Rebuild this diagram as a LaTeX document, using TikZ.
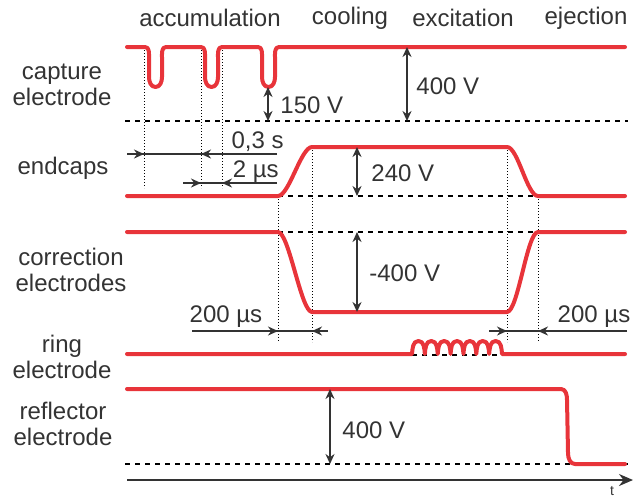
\documentclass[tikz,border=0pt]{standalone}
\usepackage{fontspec}
\setmainfont{Liberation Sans}
\usetikzlibrary{arrows.meta}
\definecolor{tred}{RGB}{232,52,58}
\definecolor{dgray}{RGB}{51,51,51}

\begin{document}
\begin{tikzpicture}[x=0.5pt,y=-0.5pt,
    trace/.style={draw=tred, line width=2pt, line join=round, line cap=round},
    refline/.style={draw=black, line width=0.7pt, dash pattern=on 2.5pt off 2.5pt},
    guide/.style={draw=black, line width=0.4pt, dash pattern=on 0.7pt off 0.8pt},
    dimline/.style={draw=dgray, line width=1pt},
    dim/.style={dimline, -{Stealth[length=5pt,width=4.5pt]}},
    dimboth/.style={dimline, {Stealth[length=5pt,width=4.5pt]}-{Stealth[length=5pt,width=4.5pt]}},
    lbl/.style={text=dgray, font=\fontsize{12}{13}\selectfont, inner sep=0pt, align=center}]
        \useasboundingbox (0,0) rectangle (640,499);

        % phases
        \node[lbl] (accu) at (210,18) {accumulation};
        \node[lbl] (cool) at (350,18) {cooling};
        \node[lbl] (exci) at (463,18) {excitation};
        \node[lbl] (ejec) at (586,18) {ejection};

        % electrode names
        \node[lbl] (capt) at (62,85) {capture\\electrode};
        \node[lbl] (endc) at (63,168) {endcaps};
        \node[lbl] (corr) at (71,270) {correction\\electrodes};
        \node[lbl] (ring) at (62,357) {ring\\electrode};
        \node[lbl] (refl) at (63,424) {reflector\\electrode};

        % reference levels
        \draw[refline] (125,121) -- (628,121);
        \draw[refline] (278,196) -- (538,196);
        \draw[refline] (278,232) -- (538,232);
        \draw[refline] (412,355) -- (502,355);
        \draw[refline] (125,464) -- (628,464);

        % time marks
        \foreach \x in {144,201,222}
            \draw[guide] (\x,47) -- (\x,188);
        \draw[guide] (278,196) -- (278,342);
        \draw[guide] (312,147) -- (312,342);
        \draw[guide] (507,147) -- (507,342);
        \draw[guide] (538,196) -- (538,342);

        % capture electrode
        \draw[trace] (127,47)
            foreach \a in {145,201,258} {
                -- (\a,47) to[out=0,in=90] (\a+4,58) -- (\a+4,77)
                to[out=-90,in=180] (\a+10.5,87) to[out=0,in=-90] (\a+17,77)
                -- (\a+17,58) to[out=90,in=180] (\a+21,47)
            } -- (625,47);

        % endcaps
        \draw[trace] (127,196) -- (278,196) .. controls (289,196) and (301,147) .. (312,147)
            -- (507,147) .. controls (518,147) and (527,196) .. (538,196) -- (625,196);

        % correction electrodes
        \draw[trace] (127,232) -- (278,232) .. controls (289,232) and (301,312) .. (312,312)
            -- (507,312) .. controls (518,312) and (527,232) .. (538,232) -- (625,232);

        % ring electrode
        \draw[trace] (127,354) -- (412,354)
            foreach \k [evaluate=\k as \xa using 412+12.86*\k,
                        evaluate=\k as \xm using 412+12.86*(\k+0.5),
                        evaluate=\k as \xb using 412+12.86*(\k+1)] in {0,...,6} {
                to[out=85,in=180] (\xm,341) to[out=0,in=95] (\xb,354)
            } -- (625,354);

        % reflector electrode
        \draw[trace] (127,389) -- (561,389) to[out=0,in=90] (567,400) -- (568,453)
            to[out=-90,in=180] (575,464) -- (625,464);

        % time axis
        \coordinate (t0) at (127,480);
        \coordinate (t1) at (633,480);
        \draw[dimline, -{Stealth[length=7pt,width=6pt]}] (t0) -- (t1);
        \node[text=dgray, font=\fontsize{7}{8}\selectfont, inner sep=0pt, anchor=north] (tlab) at (612,486) {t};

        % voltages
        \draw[dimboth] (268,87) -- (268,121);
        \node[lbl, anchor=west] (v150) at (280,105) {150 V};
        \draw[dimboth] (407,47) -- (407,121);
        \node[lbl, anchor=west] (v400a) at (416,86) {400 V};
        \draw[dimboth] (357,147) -- (357,196);
        \node[lbl, anchor=west] (v240) at (371,173) {240 V};
        \draw[dimboth] (357,232) -- (357,312);
        \node[lbl, anchor=west] (vm400) at (369,273) {-400 V};
        \draw[dimboth] (330,389) -- (330,464);
        \node[lbl, anchor=west] (v400b) at (342,430) {400 V};

        % 0,3 s
        \draw[dimline] (127,154) -- (277,154);
        \draw[dim] (127,154) -- (144,154);
        \draw[dim] (277,154) -- (201,154);
        \node[lbl, anchor=east] (per) at (284,142) {0,3 s};

        % 2 us
        \draw[dimline] (183,183) -- (277,183);
        \draw[dim] (183,183) -- (201,183);
        \draw[dim] (277,183) -- (222,183);
        \node[lbl, anchor=east] (open) at (279,172) {2 µs};

        % 200 us ramps
        \draw[dimline] (192,331) -- (328,331);
        \draw[dim] (192,331) -- (278,331);
        \draw[dim] (328,331) -- (312,331);
        \node[lbl] (rampa) at (226,317) {200 µs};
        \draw[dimline] (489,331) -- (627,331);
        \draw[dim] (489,331) -- (507,331);
        \draw[dim] (627,331) -- (538,331);
        \node[lbl] (rampb) at (594,317) {200 µs};

    \end{tikzpicture}
\end{document}
